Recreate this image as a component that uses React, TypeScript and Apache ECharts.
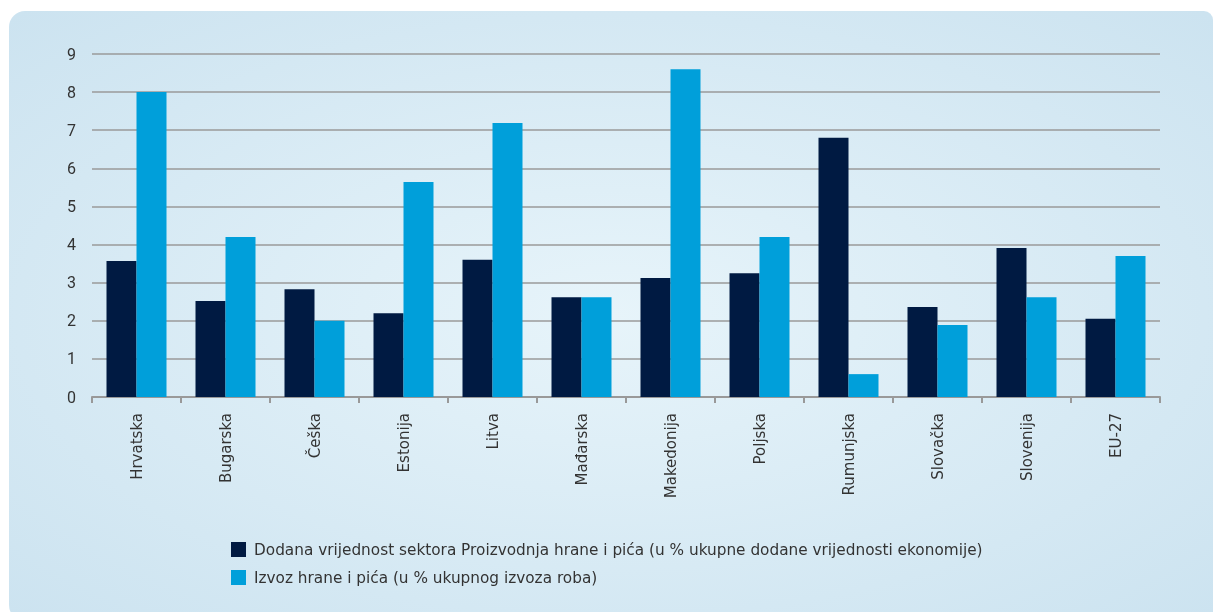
import React, { useEffect, useRef } from "react";
import * as echarts from "echarts";

const categories = ["Hrvatska", "Bugarska", "Češka", "Estonija", "Litva", "Mađarska", "Makedonija", "Poljska", "Rumunjska", "Slovačka", "Slovenija", "EU-27"];
const seriesNames = [
  "Dodana vrijednost sektora Proizvodnja hrane i pića (u % ukupne dodane vrijednosti ekonomije)",
  "Izvoz hrane i pića (u % ukupnog izvoza roba)",
];
const addedValue = [3.57, 2.52, 2.83, 2.2, 3.6, 2.62, 3.12, 3.25, 6.8, 2.36, 3.91, 2.05];
const exportShare = [8.0, 4.2, 2.0, 5.64, 7.19, 2.62, 8.6, 4.2, 0.6, 1.89, 2.62, 3.7];

const FONT = "'DejaVu Sans', Roboto, sans-serif";

export default function App() {
  const ref = useRef<HTMLDivElement>(null);
  useEffect(() => {
    if (!ref.current) return;
    const chart = echarts.init(ref.current, undefined, { renderer: "svg" });
    chart.setOption({
      animation: false,
      graphic: [
        {
          type: "rect",
          z: -10,
          silent: true,
          shape: { x: 9, y: 11, width: 1204, height: 610, r: [16, 9, 0, 16] },
          style: {
            fill: new echarts.graphic.RadialGradient(0.5, 0.5, 0.7, [
              { offset: 0, color: "#e7f4fa" },
              { offset: 1, color: "#cce3f0" },
            ]),
          },
        },
      ],
      legend: {
        orient: "vertical",
        left: 226,
        top: 537,
        itemWidth: 15,
        itemHeight: 15,
        itemGap: 13,
        icon: "rect",
        textStyle: { fontFamily: FONT, fontSize: 15.3, color: "#333", padding: [0, 0, 0, 3] },
        data: seriesNames,
      },
      grid: { left: 92, right: 54, top: 54, bottom: 215, containLabel: false },
      xAxis: {
        type: "category",
        data: categories,
        axisLine: { lineStyle: { color: "#999", width: 2 } },
        axisTick: { show: true, length: 6, lineStyle: { color: "#999", width: 2 } },
        axisLabel: { rotate: 90, margin: 16, fontFamily: FONT, fontSize: 15, color: "#333" },
      },
      yAxis: {
        type: "value",
        min: 0,
        max: 9,
        interval: 1,
        axisLine: { show: false },
        axisTick: { show: false },
        axisLabel: { margin: 16, fontFamily: "Roboto, sans-serif", fontSize: 16, color: "#333" },
        splitLine: { lineStyle: { color: "#9a9a9a", width: 1.5 } },
      },
      series: [
        { name: seriesNames[0], type: "bar", data: addedValue, barWidth: 30, barGap: "0%", itemStyle: { color: "#001a42" } },
        { name: seriesNames[1], type: "bar", data: exportShare, barWidth: 30, barGap: "0%", itemStyle: { color: "#009fda" } },
      ],
    });
    return () => chart.dispose();
  }, []);
  return <div ref={ref} style={{ position: "fixed", left: 0, top: 0, width: 1214, height: 612 }} />;
}
